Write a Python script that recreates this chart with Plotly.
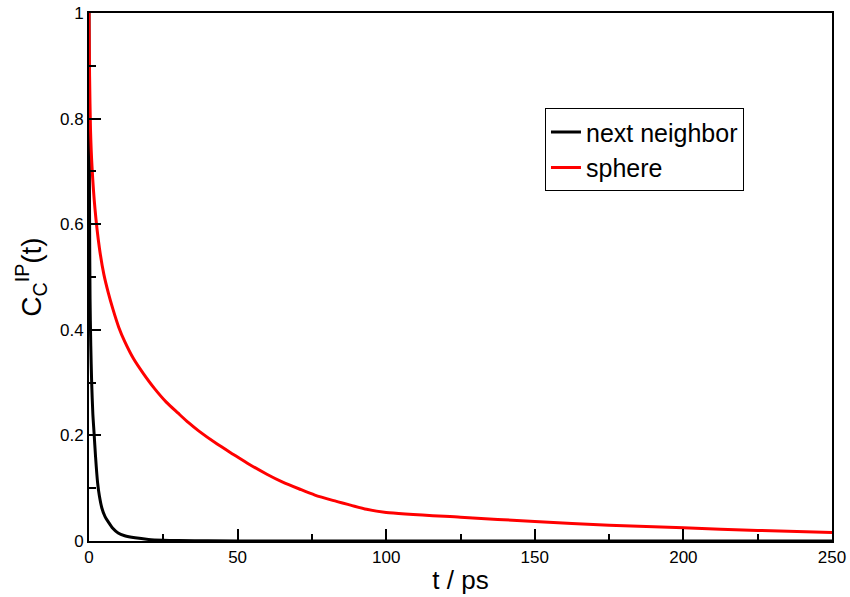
import plotly.graph_objects as go

# Time axis (ps) and correlation values for the two environment definitions
t_next = [0, 0.1, 0.2, 0.35, 0.6, 0.9, 1.3, 1.7, 2.2, 2.9, 3.5, 4.3, 5.4, 6.5, 8.0,
          9.8, 12, 15.5, 20, 25, 30, 40, 60, 100, 150, 200, 250]
c_next = [1.0, 0.75, 0.6, 0.46, 0.37, 0.30, 0.24, 0.205, 0.16, 0.11, 0.085, 0.063,
          0.046, 0.036, 0.024, 0.015, 0.010, 0.006, 0.003, 0.0015, 0.0008, 0.0003,
          0.0001, 0.0, 0.0, 0.0, 0.0]

t_sphere = [0, 0.1, 0.2, 0.5, 1.0, 2.0, 3.5, 5.0, 6.5, 8.0, 10, 12, 15, 18.3, 22, 26,
            30, 33.5, 37, 43, 48.6, 54, 60, 65, 71, 76, 82, 88, 93.4, 100, 125, 150,
            175, 200, 225, 250]
c_sphere = [1.0, 0.93, 0.88, 0.78, 0.71, 0.63, 0.555, 0.505, 0.47, 0.44, 0.405,
            0.378, 0.345, 0.317, 0.289, 0.263, 0.242, 0.224, 0.208, 0.184, 0.164,
            0.145, 0.126, 0.112, 0.098, 0.087, 0.077, 0.068, 0.060, 0.054, 0.045,
            0.037, 0.030, 0.025, 0.020, 0.016]

x_ticks = [0, 50, 100, 150, 200, 250]
y_ticks = [0, 0.2, 0.4, 0.6, 0.8, 1]
y_tick_text = ["0", "0.2", "0.4", "0.6", "0.8", "1"]

FONT = "Liberation Sans, Arial, Helvetica, sans-serif"

fig = go.Figure()
fig.add_trace(go.Scatter(x=t_next, y=c_next, mode="lines", name="next neighbor",
                         line=dict(color="black", width=3, shape="spline", smoothing=0.7)))
fig.add_trace(go.Scatter(x=t_sphere, y=c_sphere, mode="lines", name="sphere",
                         line=dict(color="#ff0000", width=3, shape="spline", smoothing=0.7)))

axis_common = dict(
    showline=True, linecolor="black", linewidth=2, mirror=True,
    showgrid=False, zeroline=False, automargin=False,
    ticks="inside", ticklen=12, tickwidth=2, tickcolor="black",
    tickfont=dict(family=FONT, size=17, color="black"),
)

fig.update_xaxes(
    range=[0, 250], tickvals=x_ticks,
    minor=dict(ticks="inside", ticklen=7, tickwidth=2, tickcolor="black", dtick=25, tick0=0),
    title=dict(text="t / ps", font=dict(family=FONT, size=26, color="black"), standoff=4),
    **axis_common,
)
fig.update_yaxes(
    range=[0, 1], tickvals=y_ticks, ticktext=y_tick_text,
    minor=dict(ticks="inside", ticklen=7, tickwidth=2, tickcolor="black", dtick=0.1, tick0=0),
    title=dict(text="C<sub>C</sub><sup>IP</sup>(t)",
               font=dict(family=FONT, size=28, color="black"), standoff=10),
    **axis_common,
)

fig.update_layout(
    width=850, height=597,
    margin=dict(l=89, r=18, t=13, b=56),
    paper_bgcolor="white", plot_bgcolor="white",
    legend=dict(
        x=0.6137, y=0.8195, xanchor="left", yanchor="top",
        bgcolor="white", bordercolor="black", borderwidth=1,
        font=dict(family=FONT, size=25, color="black"),
        itemwidth=30, tracegroupgap=0,
    ),
    showlegend=True,
)

fig.write_html("out.html")
